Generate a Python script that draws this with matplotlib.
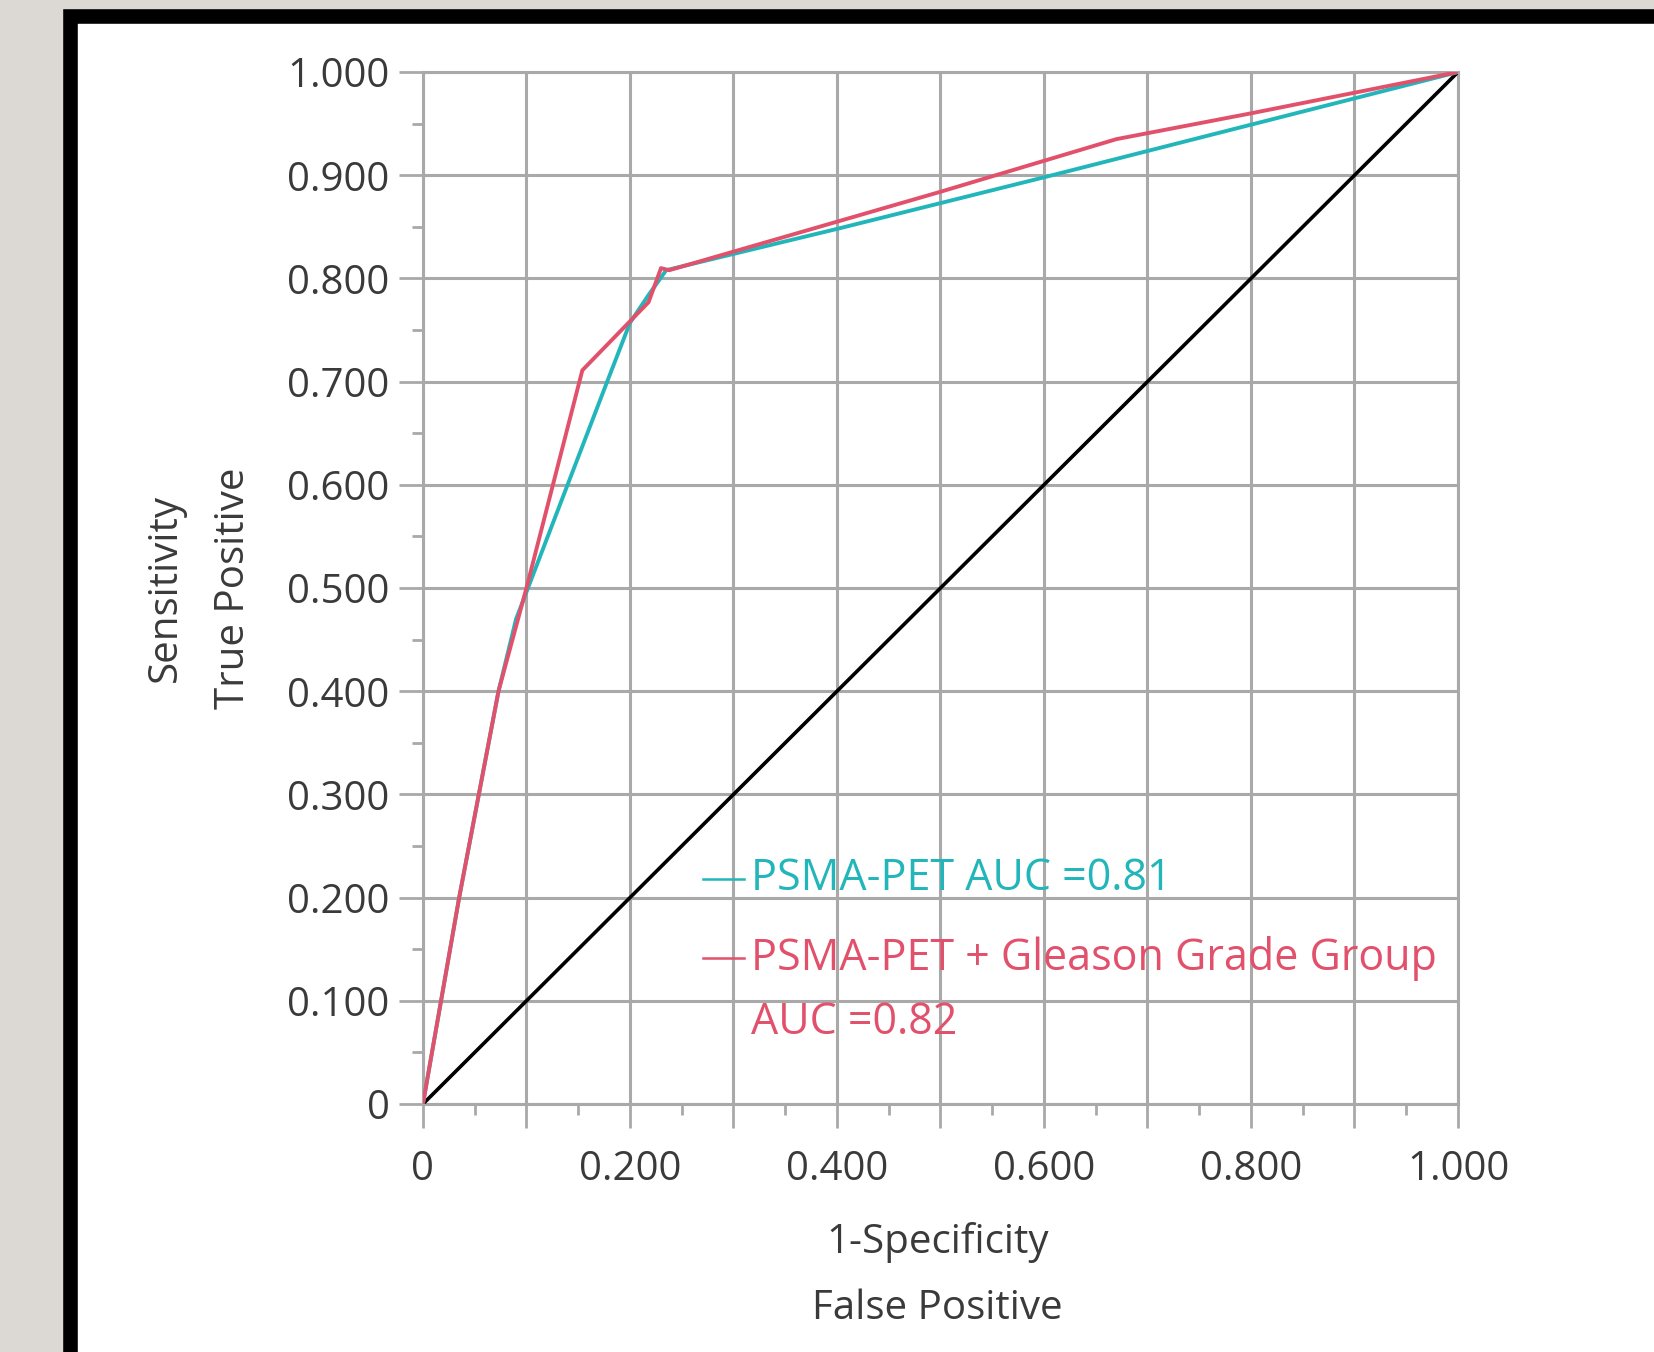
import matplotlib
matplotlib.use("Agg")
import matplotlib.pyplot as plt
from matplotlib.patches import Rectangle
from matplotlib.lines import Line2D
from matplotlib.ticker import MultipleLocator, FixedLocator

plt.rcParams['font.family'] = ['Open Sans', 'DejaVu Sans']

# ROC points
fpr_pet = [0.0, 0.035, 0.073, 0.09, 0.178, 0.2, 0.218, 0.235, 0.4, 0.6, 0.8, 1.0]
tpr_pet = [0.0, 0.2, 0.4, 0.47, 0.70, 0.757, 0.784, 0.808, 0.848, 0.898, 0.949, 1.0]

fpr_comb = [0.0, 0.035, 0.073, 0.1, 0.154, 0.218, 0.23, 0.238, 0.5, 0.67, 0.8, 1.0]
tpr_comb = [0.0, 0.2, 0.4, 0.5, 0.711, 0.777, 0.81, 0.808, 0.884, 0.935, 0.96, 1.0]

ref_line = [0.0, 1.0]

x_ticks = [0, 0.2, 0.4, 0.6, 0.8, 1.0]
x_tick_labels = ['0', '0.200', '0.400', '0.600', '0.800', '1.000']
y_ticks = [0, 0.1, 0.2, 0.3, 0.4, 0.5, 0.6, 0.7, 0.8, 0.9, 1.0]
y_tick_labels = ['0', '0.100', '0.200', '0.300', '0.400', '0.500',
                 '0.600', '0.700', '0.800', '0.900', '1.000']

cyan = '#22b6ba'
red = '#e2516b'
grid_col = '#a9a9a9'
txt_col = '#3a3a3a'

fig = plt.figure(figsize=(16.54, 13.52), dpi=100)
fig.patch.set_facecolor('#dcd9d4')

# white panel with thick black frame
fig.patches.append(Rectangle((0.0423, -0.2), 1.3, 0.988 + 0.2, transform=fig.transFigure,
                             facecolor='white', edgecolor='black', linewidth=10.5,
                             zorder=-5))

ax = fig.add_axes([0.2557, 0.1834, 0.6258, 0.7633])
ax.set_zorder(2)
ax.set_facecolor('none')

ax.plot(ref_line, ref_line, color='black', lw=2.6, zorder=3)
ax.plot(fpr_pet, tpr_pet, color=cyan, lw=2.8, zorder=4)
ax.plot(fpr_comb, tpr_comb, color=red, lw=2.8, zorder=5)

ax.set_xlim(0, 1)
ax.set_ylim(0, 1)

ax.xaxis.set_major_locator(MultipleLocator(0.1))
ax.xaxis.set_minor_locator(FixedLocator([0.05 + 0.1 * i for i in range(10)]))
ax.yaxis.set_major_locator(MultipleLocator(0.1))
ax.yaxis.set_minor_locator(FixedLocator([0.05 + 0.1 * i for i in range(10)]))

xt = [round(0.1 * i, 1) for i in range(11)]
ax.set_xticks(xt)
ax.set_xticklabels([x_tick_labels[x_ticks.index(v)] if v in x_ticks else '' for v in xt])
ax.set_yticks(y_ticks)
ax.set_yticklabels(y_tick_labels)

ax.grid(True, which='major', color=grid_col, lw=2.2, zorder=1)
ax.set_axisbelow(True)
for s in ax.spines.values():
    s.set_color(grid_col)
    s.set_linewidth(2.2)

ax.tick_params(which='major', length=17, width=2, color=grid_col, labelsize=29,
               labelcolor=txt_col, pad=7)
ax.tick_params(which='minor', length=8, width=2, color=grid_col)
ax.tick_params(axis='x', pad=16)

ax.text(0.497, -0.166, '1-Specificity\nFalse Positive', transform=ax.transAxes,
        ha='center', va='center', fontsize=29, color=txt_col, linespacing=1.85)
ax.text(-0.2155, 0.5, 'Sensitivity\nTrue Positive', transform=ax.transAxes,
        ha='center', va='center', rotation=90, fontsize=29, color=txt_col,
        linespacing=1.9)

# legend drawn as text entries
rows = [(0.218, cyan, 'PSMA-PET AUC =0.81'),
        (0.1415, red, 'PSMA-PET + Gleason Grade Group')]
for yy, c, lab in rows:
    ax.add_line(Line2D([0.271, 0.31], [yy, yy], transform=ax.transAxes, color=c, lw=1.8,
                       zorder=6))
    ax.text(0.317, yy, lab, transform=ax.transAxes, ha='left', va='center',
            fontsize=31, color=c, zorder=6)
ax.text(0.317, 0.0785, 'AUC =0.82', transform=ax.transAxes, ha='left', va='center',
        fontsize=31, color=red, zorder=6)

fig.savefig('out.png', dpi=100, facecolor=fig.get_facecolor())
